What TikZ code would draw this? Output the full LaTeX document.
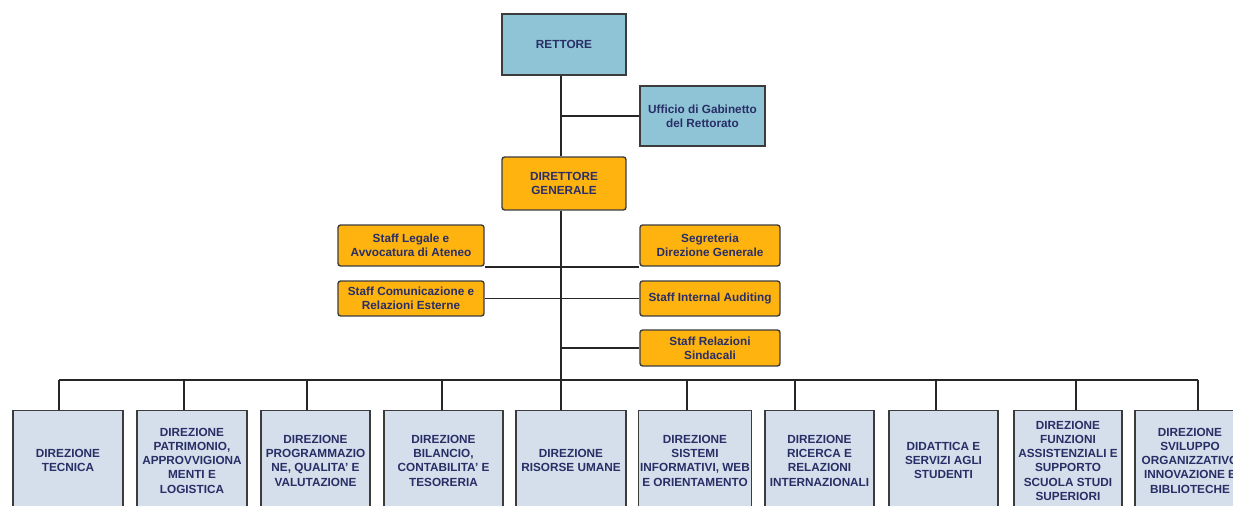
\documentclass[tikz,border=0pt]{standalone}
\usepackage{fontspec}
\setmainfont{Liberation Sans}
\usetikzlibrary{positioning}
\definecolor{rectblue}{HTML}{8FC4D6}
\definecolor{dgorange}{HTML}{FFB30F}
\definecolor{dirgrey}{HTML}{D5DFEB}
\definecolor{boxline}{HTML}{3C3C3C}
\definecolor{labelnavy}{HTML}{282E66}
\tikzset{
    rector/.style={
    rectangle,draw=boxline,fill=rectblue,text=labelnavy,line width=0.8pt,
    align=center,inner sep=1pt,font=\fontsize{6.7}{8.1}\selectfont\bfseries
    },
    general/.style={
    rectangle,rounded corners=1.5pt,draw=boxline,fill=dgorange,text=labelnavy,line width=0.8pt,
    align=center,inner sep=1pt,font=\fontsize{6.7}{8.1}\selectfont\bfseries
    },
    direzione/.style={
    rectangle,draw=boxline,fill=dirgrey,text=labelnavy,line width=0.8pt,anchor=north,
    minimum height=2cm,align=center,inner sep=1pt,font=\fontsize{6.7}{8.1}\selectfont\bfseries
    },
    wire/.style={
    draw=black!85,line width=1pt
    },
}

\begin{document}
\begin{tikzpicture}[x=0.02cm, y=-0.02cm]
   \useasboundingbox (0,0) rectangle (1233,506);
   \node[rector,minimum width=2.48cm,minimum height=1.22cm] (R) at (564,44.5) {RETTORE};
   \node[rector,minimum width=2.5cm,minimum height=1.2cm] (U) at (702.5,116) {Ufficio di Gabinetto\\del Rettorato};
   \node[general,minimum width=2.48cm,minimum height=1.06cm] (DG) at (564,183.5) {DIRETTORE\\GENERALE};
   \node[general,minimum width=2.92cm,minimum height=0.82cm] (SL) at (411,245.5) {Staff Legale e\\Avvocatura di Ateneo};
   \node[general,minimum width=2.8cm,minimum height=0.82cm] (SG) at (710,245.5) {Segreteria\\Direzione Generale};
   \node[general,minimum width=2.92cm,minimum height=0.7cm] (SC) at (411,298.5) {Staff Comunicazione e\\Relazioni Esterne};
   \node[general,minimum width=2.8cm,minimum height=0.7cm] (SA) at (710,298.5) {Staff Internal Auditing};
   \node[general,minimum width=2.8cm,minimum height=0.72cm] (SR) at (710,348) {Staff Relazioni\\Sindacali};

   % direzioni
   \node[direzione,minimum width=2.2cm] (d1) at (68,410) {DIREZIONE\\TECNICA};
   \node[direzione,minimum width=2.2cm] (d2) at (192,410) {DIREZIONE\\PATRIMONIO,\\APPROVVIGIONA\\MENTI E\\LOGISTICA};
   \node[direzione,minimum width=2.18cm] (d3) at (315.5,410) {DIREZIONE\\PROGRAMMAZIO\\NE, QUALITA' E\\VALUTAZIONE};
   \node[direzione,minimum width=2.38cm] (d4) at (443.5,410) {DIREZIONE\\BILANCIO,\\CONTABILITA' E\\TESORERIA};
   \node[direzione,minimum width=2.2cm] (d5) at (571,410) {DIREZIONE\\RISORSE UMANE};
   \node[direzione,minimum width=2.16cm] (d6) at (695,410) {DIREZIONE\\SISTEMI\\INFORMATIVI, WEB\\E ORIENTAMENTO};
   \node[direzione,minimum width=2.18cm] (d7) at (819.5,410) {DIREZIONE\\RICERCA E\\RELAZIONI\\INTERNAZIONALI};
   \node[direzione,minimum width=2.18cm] (d8) at (943.5,410) {DIDATTICA E\\SERVIZI AGLI\\STUDENTI};
   \node[direzione,minimum width=2.16cm] (d9) at (1068,410) {DIREZIONE\\FUNZIONI\\ASSISTENZIALI E\\SUPPORTO\\SCUOLA STUDI\\SUPERIORI};
   \node[direzione,minimum width=2.2cm] (d10) at (1190,410) {DIREZIONE\\SVILUPPO\\ORGANIZZATIVO\\INNOVAZIONE E\\BIBLIOTECHE};

   % trunk and bus
   \coordinate (t) at (561,0);
   \coordinate (b1) at (59,380);
   \coordinate (b2) at (184,380);
   \coordinate (b3) at (307,380);
   \coordinate (b4) at (442,380);
   \coordinate (b5) at (561,380);
   \coordinate (b6) at (687,380);
   \coordinate (b7) at (795,380);
   \coordinate (b8) at (936,380);
   \coordinate (b9) at (1076,380);
   \coordinate (b10) at (1198,380);

  \path[wire]
    (R.south -| t) edge (DG.north -| t)
    (U.west -| t) edge (U.west)
    (DG.south -| t) edge (b5)
    (SL.south east) edge (SG.south west)
    (SC.east) edge (SA.west)
    (SR.west -| t) edge (SR.west)
    (b1) edge (b10);
  \path[wire]
    (b1) edge (b1 |- d1.north)
    (b2) edge (b2 |- d2.north)
    (b3) edge (b3 |- d3.north)
    (b4) edge (b4 |- d4.north)
    (b5) edge (b5 |- d5.north)
    (b6) edge (b6 |- d6.north)
    (b7) edge (b7 |- d7.north)
    (b8) edge (b8 |- d8.north)
    (b9) edge (b9 |- d9.north)
    (b10) edge[line width=1.6pt] (b10 |- d10.north);
\end{tikzpicture}
\end{document}
